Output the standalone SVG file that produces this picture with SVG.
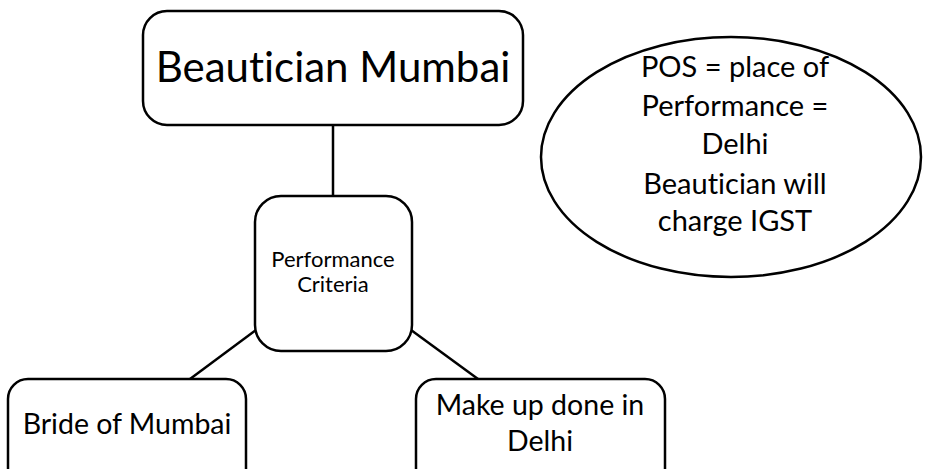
<svg xmlns="http://www.w3.org/2000/svg" width="930" height="469" viewBox="0 0 930 469">
  <style>
    .box { fill: #ffffff; stroke: #000000; stroke-width: 2.5; }
    .wire { stroke: #000000; stroke-width: 2.5; fill: none; }
    text { font-family: Lato, "Open Sans", sans-serif; fill: #000000; text-anchor: middle; font-variant-ligatures: none; }
  </style>
  <rect width="930" height="469" fill="#ffffff"/>
  <g id="connectors">
    <line class="wire" x1="333" y1="125" x2="333" y2="197"/>
    <line class="wire" x1="256" y1="330" x2="190" y2="379"/>
    <line class="wire" x1="411" y1="330" x2="478" y2="379"/>
  </g>
  <g id="beautician-mumbai">
    <rect class="box" x="143" y="11" width="380" height="114" rx="24"/>
    <text x="333" y="82" font-size="42">Beautician Mumbai</text>
  </g>
  <g id="performance-criteria">
    <rect class="box" x="255" y="196" width="157" height="155" rx="26"/>
    <text x="333" y="267" font-size="22">Performance</text>
    <text x="333" y="292" font-size="22">Criteria</text>
  </g>
  <g id="bride-of-mumbai">
    <rect class="box" x="8" y="379" width="238" height="110" rx="20"/>
    <text x="127" y="434" font-size="28.5">Bride of Mumbai</text>
  </g>
  <g id="make-up-delhi">
    <rect class="box" x="416" y="379" width="249" height="110" rx="20"/>
    <text x="540" y="415" font-size="28.5">Make up done in</text>
    <text x="540" y="451" font-size="28.5">Delhi</text>
  </g>
  <g id="pos-note">
    <ellipse class="box" cx="731" cy="157" rx="190" ry="120"/>
    <text x="735" y="77" font-size="29">POS = place of</text>
    <text x="735" y="116" font-size="29">Performance =</text>
    <text x="735" y="154" font-size="29">Delhi</text>
    <text x="735" y="194" font-size="29">Beautician will</text>
    <text x="735" y="231" font-size="29">charge IGST</text>
  </g>
</svg>
